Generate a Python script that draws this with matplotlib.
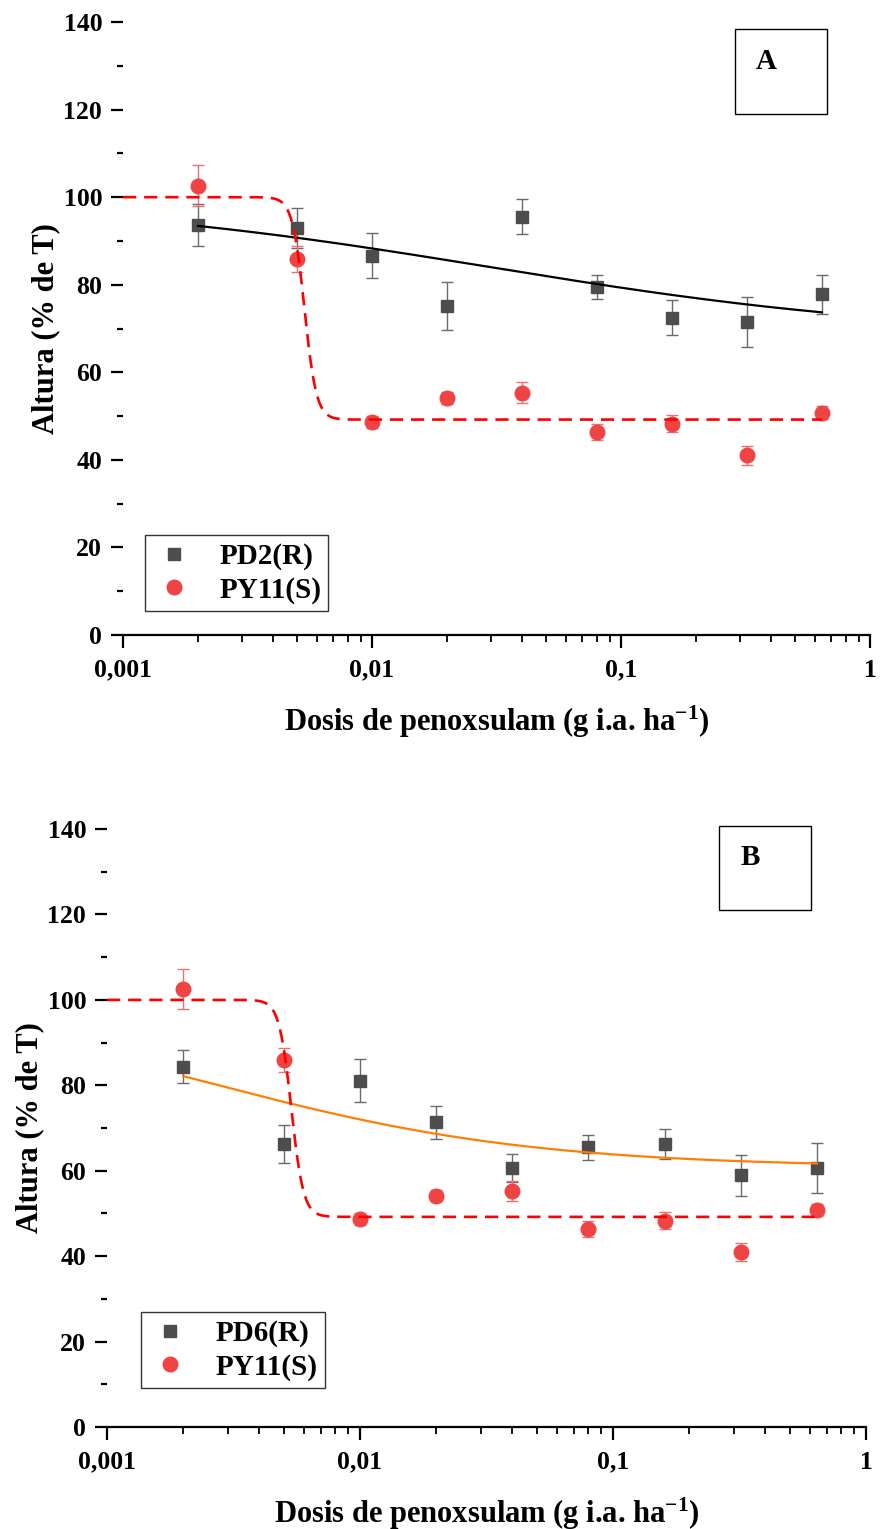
"""Plant height vs. penoxsulam dose for resistant and susceptible biotypes."""

import numpy as np
import matplotlib

matplotlib.use("Agg")
import matplotlib.pyplot as plt
from matplotlib.lines import Line2D
from matplotlib.patches import Rectangle
from matplotlib.ticker import FixedFormatter, FixedLocator, LogLocator, MultipleLocator, NullFormatter

doses = [0.002, 0.005, 0.01, 0.02, 0.04, 0.08, 0.16, 0.32, 0.64]

pd2_height = [93.6, 92.9, 86.6, 75.1, 95.5, 79.5, 72.5, 71.5, 77.8]
pd2_err = [4.8, 4.6, 5.1, 5.5, 4.0, 2.8, 3.9, 5.8, 4.4]

pd6_height = [84.4, 66.3, 81.1, 71.3, 60.6, 65.5, 66.3, 58.9, 60.6]
pd6_err = [3.8, 4.5, 5.0, 3.9, 3.3, 2.9, 3.5, 4.7, 5.9]

py11_height = [102.6, 85.9, 48.7, 54.2, 55.3, 46.4, 48.3, 41.0, 50.8]
py11_err = [4.7, 2.9, 1.4, 1.4, 2.4, 1.9, 2.0, 2.1, 1.4]

# log-logistic fits: lower, upper, ED50, slope, dose range
pd2_fit = (68.0, 100.0, 0.03, 0.5, (0.002, 0.64))
pd6_fit = (60.8, 100.0, 0.0026, 0.68, (0.002, 0.64))
py11_fit = (49.2, 100.0, 0.00535, 18.0, (0.001, 0.64))

x_tick_values = [0.001, 0.01, 0.1, 1]
x_tick_labels = ["0,001", "0,01", "0,1", "1"]

SERIF = "Liberation Serif"
SQUARE_COLOR = "#4d4d4d"
CIRCLE_COLOR = "#f04444"

plt.rcParams["mathtext.fontset"] = "custom"
plt.rcParams["mathtext.rm"] = "Liberation Serif:bold"
plt.rcParams["mathtext.bf"] = "Liberation Serif:bold"
plt.rcParams["mathtext.default"] = "rm"


def log_logistic(x, lower, upper, ed50, slope):
    return lower + (upper - lower) / (1.0 + np.exp(slope * np.log(x / ed50)))


def fit_curve(params):
    lower, upper, ed50, slope, (x0, x1) = params
    x = np.logspace(np.log10(x0), np.log10(x1), 400)
    return x, log_logistic(x, lower, upper, ed50, slope)


def style_axes(ax):
    ax.set_xscale("log")
    ax.set_xlim(0.001, 1)
    ax.set_ylim(0, 140)
    for side in ("top", "right", "left"):
        ax.spines[side].set_visible(False)
    ax.spines["bottom"].set_linewidth(1.6)

    ax.xaxis.set_major_locator(FixedLocator(x_tick_values))
    ax.xaxis.set_major_formatter(FixedFormatter(x_tick_labels))
    ax.xaxis.set_minor_locator(LogLocator(base=10, subs=np.arange(2, 10)))
    ax.xaxis.set_minor_formatter(NullFormatter())
    ax.yaxis.set_major_locator(MultipleLocator(20))
    ax.yaxis.set_minor_locator(MultipleLocator(10))

    ax.tick_params(axis="x", which="major", length=9, width=1.6, pad=8, labelsize=18.5)
    ax.tick_params(axis="x", which="minor", length=5, width=1.3)
    ax.tick_params(axis="y", which="major", length=9, width=1.6, pad=6, labelsize=18.5)
    ax.tick_params(axis="y", which="minor", length=4.5, width=1.6)
    for label in ax.get_xticklabels() + ax.get_yticklabels():
        label.set_fontweight("bold")
        label.set_family(SERIF)

    ax.set_ylabel("Altura (% de T)", fontsize=22, fontweight="bold", family=SERIF, labelpad=2)
    ax.set_xlabel(r"Dosis de penoxsulam (g i.a. ha$^{-1}$)",
                  fontsize=22, fontweight="bold", family=SERIF, labelpad=16)


def draw_panel(ax, letter, r_label, r_height, r_err, r_fit, r_line_color, legend_anchor,
               letter_rect, letter_pos):
    ax.errorbar(doses, r_height, yerr=r_err, fmt="s", ms=8.6, color=SQUARE_COLOR,
                ecolor="#6a6a6a", elinewidth=1.0, capsize=4.5, capthick=1.0, zorder=3)
    ax.errorbar(doses, py11_height, yerr=py11_err, fmt="o", ms=10.5, color=CIRCLE_COLOR,
                ecolor="#f07070", elinewidth=1.0, capsize=4.5, capthick=1.0, zorder=3)

    x, y = fit_curve(r_fit)
    ax.plot(x, y, color=r_line_color, lw=1.6, zorder=4)
    x, y = fit_curve(py11_fit)
    ax.plot(x, y, color="#ff0000", lw=1.9, dashes=(5, 3), zorder=4)

    style_axes(ax)

    handles = [
        Line2D([], [], ls="none", marker="s", ms=8.6, color=SQUARE_COLOR),
        Line2D([], [], ls="none", marker="o", ms=10.5, color=CIRCLE_COLOR),
    ]
    leg = ax.legend(handles, [r_label, "PY11(S)"], loc="lower left",
                    bbox_to_anchor=legend_anchor, borderaxespad=0,
                    prop={"family": SERIF, "weight": "bold", "size": 21},
                    frameon=True, fancybox=False, edgecolor="black",
                    handlelength=1.5, handletextpad=0.8, labelspacing=0.22,
                    borderpad=0.25)
    leg.get_frame().set_linewidth(1.0)

    x0, y0, x1, y1 = letter_rect
    ax.add_patch(Rectangle((x0, y0), x1 - x0, y1 - y0, transform=ax.transAxes,
                           fill=False, edgecolor="black", lw=1.0, clip_on=False, zorder=5))
    ax.text(letter_pos[0], letter_pos[1], letter, transform=ax.transAxes,
            ha="center", va="center", fontsize=21, fontweight="bold", family=SERIF)


def main():
    fig = plt.figure(figsize=(8.8, 15.29), dpi=100)

    ax_a = fig.add_axes([0.1398, 0.5847, 0.8489, 0.4009])
    draw_panel(ax_a, "A", "PD2(R)", pd2_height, pd2_err, pd2_fit, "black",
               (0.029, 0.039), (0.819, 0.850, 0.942, 0.9886), (0.861, 0.935))

    ax_b = fig.add_axes([0.1216, 0.0667, 0.8625, 0.3911])
    draw_panel(ax_b, "B", "PD6(R)", pd6_height, pd6_err, pd6_fit, "#ff8000",
               (0.045, 0.065), (0.806, 0.8645, 0.9275, 1.005), (0.847, 0.953))

    fig.savefig("out.png", dpi=100)


if __name__ == "__main__":
    main()
